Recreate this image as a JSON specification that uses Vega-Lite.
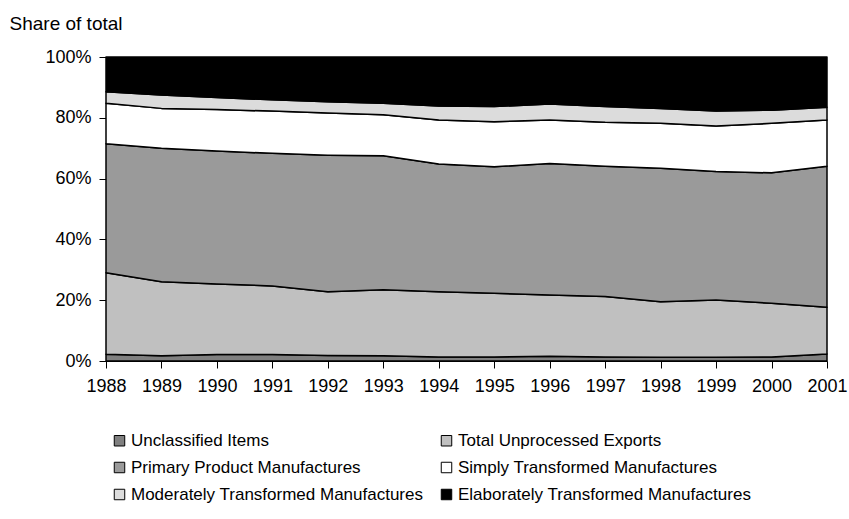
{
  "$schema": "https://vega.github.io/schema/vega-lite/v6.json",
  "width": 721,
  "height": 304,
  "autosize": "none",
  "padding": {"left": 106, "top": 57, "right": 22, "bottom": 158},
  "background": "white",
  "config": {
    "font": "Liberation Sans",
    "view": {"stroke": null},
    "axis": {"grid": false, "domainColor": "black", "tickColor": "black", "labelColor": "black", "labelFontSize": 18, "labelFont": "Liberation Sans", "domainWidth": 1, "tickWidth": 1, "tickSize": 7}
  },
  "datasets": {
    "shares": [
      {"year": 1988, "cat": "Unclassified Items", "ord": 1, "v": 2.2},
      {"year": 1988, "cat": "Total Unprocessed Exports", "ord": 2, "v": 26.8},
      {"year": 1988, "cat": "Primary Product Manufactures", "ord": 3, "v": 42.5},
      {"year": 1988, "cat": "Simply Transformed Manufactures", "ord": 4, "v": 13.3},
      {"year": 1988, "cat": "Moderately Transformed Manufactures", "ord": 5, "v": 3.8},
      {"year": 1988, "cat": "Elaborately Transformed Manufactures", "ord": 6, "v": 11.4},
      {"year": 1989, "cat": "Unclassified Items", "ord": 1, "v": 1.7},
      {"year": 1989, "cat": "Total Unprocessed Exports", "ord": 2, "v": 24.4},
      {"year": 1989, "cat": "Primary Product Manufactures", "ord": 3, "v": 43.9},
      {"year": 1989, "cat": "Simply Transformed Manufactures", "ord": 4, "v": 13.1},
      {"year": 1989, "cat": "Moderately Transformed Manufactures", "ord": 5, "v": 4.4},
      {"year": 1989, "cat": "Elaborately Transformed Manufactures", "ord": 6, "v": 12.5},
      {"year": 1990, "cat": "Unclassified Items", "ord": 1, "v": 2.1},
      {"year": 1990, "cat": "Total Unprocessed Exports", "ord": 2, "v": 23.2},
      {"year": 1990, "cat": "Primary Product Manufactures", "ord": 3, "v": 43.8},
      {"year": 1990, "cat": "Simply Transformed Manufactures", "ord": 4, "v": 13.6},
      {"year": 1990, "cat": "Moderately Transformed Manufactures", "ord": 5, "v": 4.0},
      {"year": 1990, "cat": "Elaborately Transformed Manufactures", "ord": 6, "v": 13.3},
      {"year": 1991, "cat": "Unclassified Items", "ord": 1, "v": 2.1},
      {"year": 1991, "cat": "Total Unprocessed Exports", "ord": 2, "v": 22.6},
      {"year": 1991, "cat": "Primary Product Manufactures", "ord": 3, "v": 43.6},
      {"year": 1991, "cat": "Simply Transformed Manufactures", "ord": 4, "v": 13.9},
      {"year": 1991, "cat": "Moderately Transformed Manufactures", "ord": 5, "v": 3.7},
      {"year": 1991, "cat": "Elaborately Transformed Manufactures", "ord": 6, "v": 14.1},
      {"year": 1992, "cat": "Unclassified Items", "ord": 1, "v": 1.8},
      {"year": 1992, "cat": "Total Unprocessed Exports", "ord": 2, "v": 21.0},
      {"year": 1992, "cat": "Primary Product Manufactures", "ord": 3, "v": 44.9},
      {"year": 1992, "cat": "Simply Transformed Manufactures", "ord": 4, "v": 13.9},
      {"year": 1992, "cat": "Moderately Transformed Manufactures", "ord": 5, "v": 3.7},
      {"year": 1992, "cat": "Elaborately Transformed Manufactures", "ord": 6, "v": 14.7},
      {"year": 1993, "cat": "Unclassified Items", "ord": 1, "v": 1.7},
      {"year": 1993, "cat": "Total Unprocessed Exports", "ord": 2, "v": 21.7},
      {"year": 1993, "cat": "Primary Product Manufactures", "ord": 3, "v": 44.1},
      {"year": 1993, "cat": "Simply Transformed Manufactures", "ord": 4, "v": 13.5},
      {"year": 1993, "cat": "Moderately Transformed Manufactures", "ord": 5, "v": 3.8},
      {"year": 1993, "cat": "Elaborately Transformed Manufactures", "ord": 6, "v": 15.2},
      {"year": 1994, "cat": "Unclassified Items", "ord": 1, "v": 1.3},
      {"year": 1994, "cat": "Total Unprocessed Exports", "ord": 2, "v": 21.5},
      {"year": 1994, "cat": "Primary Product Manufactures", "ord": 3, "v": 42.0},
      {"year": 1994, "cat": "Simply Transformed Manufactures", "ord": 4, "v": 14.5},
      {"year": 1994, "cat": "Moderately Transformed Manufactures", "ord": 5, "v": 4.6},
      {"year": 1994, "cat": "Elaborately Transformed Manufactures", "ord": 6, "v": 16.1},
      {"year": 1995, "cat": "Unclassified Items", "ord": 1, "v": 1.3},
      {"year": 1995, "cat": "Total Unprocessed Exports", "ord": 2, "v": 21.0},
      {"year": 1995, "cat": "Primary Product Manufactures", "ord": 3, "v": 41.6},
      {"year": 1995, "cat": "Simply Transformed Manufactures", "ord": 4, "v": 14.8},
      {"year": 1995, "cat": "Moderately Transformed Manufactures", "ord": 5, "v": 5.0},
      {"year": 1995, "cat": "Elaborately Transformed Manufactures", "ord": 6, "v": 16.3},
      {"year": 1996, "cat": "Unclassified Items", "ord": 1, "v": 1.6},
      {"year": 1996, "cat": "Total Unprocessed Exports", "ord": 2, "v": 20.1},
      {"year": 1996, "cat": "Primary Product Manufactures", "ord": 3, "v": 43.3},
      {"year": 1996, "cat": "Simply Transformed Manufactures", "ord": 4, "v": 14.3},
      {"year": 1996, "cat": "Moderately Transformed Manufactures", "ord": 5, "v": 5.2},
      {"year": 1996, "cat": "Elaborately Transformed Manufactures", "ord": 6, "v": 15.5},
      {"year": 1997, "cat": "Unclassified Items", "ord": 1, "v": 1.3},
      {"year": 1997, "cat": "Total Unprocessed Exports", "ord": 2, "v": 19.9},
      {"year": 1997, "cat": "Primary Product Manufactures", "ord": 3, "v": 42.9},
      {"year": 1997, "cat": "Simply Transformed Manufactures", "ord": 4, "v": 14.4},
      {"year": 1997, "cat": "Moderately Transformed Manufactures", "ord": 5, "v": 5.2},
      {"year": 1997, "cat": "Elaborately Transformed Manufactures", "ord": 6, "v": 16.3},
      {"year": 1998, "cat": "Unclassified Items", "ord": 1, "v": 1.2},
      {"year": 1998, "cat": "Total Unprocessed Exports", "ord": 2, "v": 18.3},
      {"year": 1998, "cat": "Primary Product Manufactures", "ord": 3, "v": 43.9},
      {"year": 1998, "cat": "Simply Transformed Manufactures", "ord": 4, "v": 14.8},
      {"year": 1998, "cat": "Moderately Transformed Manufactures", "ord": 5, "v": 4.9},
      {"year": 1998, "cat": "Elaborately Transformed Manufactures", "ord": 6, "v": 16.9},
      {"year": 1999, "cat": "Unclassified Items", "ord": 1, "v": 1.2},
      {"year": 1999, "cat": "Total Unprocessed Exports", "ord": 2, "v": 18.9},
      {"year": 1999, "cat": "Primary Product Manufactures", "ord": 3, "v": 42.2},
      {"year": 1999, "cat": "Simply Transformed Manufactures", "ord": 4, "v": 15.0},
      {"year": 1999, "cat": "Moderately Transformed Manufactures", "ord": 5, "v": 4.9},
      {"year": 1999, "cat": "Elaborately Transformed Manufactures", "ord": 6, "v": 17.8},
      {"year": 2000, "cat": "Unclassified Items", "ord": 1, "v": 1.3},
      {"year": 2000, "cat": "Total Unprocessed Exports", "ord": 2, "v": 17.7},
      {"year": 2000, "cat": "Primary Product Manufactures", "ord": 3, "v": 42.9},
      {"year": 2000, "cat": "Simply Transformed Manufactures", "ord": 4, "v": 16.3},
      {"year": 2000, "cat": "Moderately Transformed Manufactures", "ord": 5, "v": 4.3},
      {"year": 2000, "cat": "Elaborately Transformed Manufactures", "ord": 6, "v": 17.5},
      {"year": 2001, "cat": "Unclassified Items", "ord": 1, "v": 2.3},
      {"year": 2001, "cat": "Total Unprocessed Exports", "ord": 2, "v": 15.4},
      {"year": 2001, "cat": "Primary Product Manufactures", "ord": 3, "v": 46.4},
      {"year": 2001, "cat": "Simply Transformed Manufactures", "ord": 4, "v": 15.2},
      {"year": 2001, "cat": "Moderately Transformed Manufactures", "ord": 5, "v": 4.2},
      {"year": 2001, "cat": "Elaborately Transformed Manufactures", "ord": 6, "v": 16.5}
    ]
  },
  "data": {"name": "shares"},
  "mark": {"type": "area", "stroke": "black", "strokeWidth": 1.5, "strokeJoin": "round"},
  "encoding": {
    "x": {
      "field": "year", "type": "quantitative",
      "scale": {"domain": [1988, 2001], "nice": false, "zero": false},
      "axis": {"values": [1988, 1989, 1990, 1991, 1992, 1993, 1994, 1995, 1996, 1997, 1998, 1999, 2000, 2001], "format": "d", "title": null, "labelPadding": 9, "labelFlush": false, "labelOverlap": false}
    },
    "y": {
      "field": "v", "type": "quantitative", "stack": "normalize",
      "scale": {"domain": [0, 1], "nice": false},
      "axis": {"values": [0, 0.2, 0.4, 0.6, 0.8, 1], "format": ".0%", "title": "Share of total", "titleAngle": 0, "titleAlign": "left", "titleBaseline": "middle", "titleX": -97, "titleY": -34, "titleFontSize": 19, "titleFontWeight": "normal", "titleColor": "black", "titleFont": "Liberation Sans", "labelPadding": 8}
    },
    "order": {"field": "ord", "type": "quantitative"},
    "fill": {
      "field": "cat", "type": "nominal",
      "scale": {
        "domain": ["Unclassified Items", "Total Unprocessed Exports", "Primary Product Manufactures", "Simply Transformed Manufactures", "Moderately Transformed Manufactures", "Elaborately Transformed Manufactures"],
        "range": ["#808080", "#c0c0c0", "#9a9a9a", "#ffffff", "#dcdcdc", "#000000"]
      },
      "legend": {
        "title": null, "orient": "none", "legendX": 5, "legendY": 375, "columns": 2, "direction": "horizontal",
        "symbolType": "square", "symbolSize": 110, "symbolStrokeColor": "black", "symbolStrokeWidth": 1,
        "labelFontSize": 17, "labelColor": "black", "labelFont": "Liberation Sans", "labelLimit": 400,
        "rowPadding": 9, "columnPadding": 14, "labelOffset": 3
      }
    }
  }
}
